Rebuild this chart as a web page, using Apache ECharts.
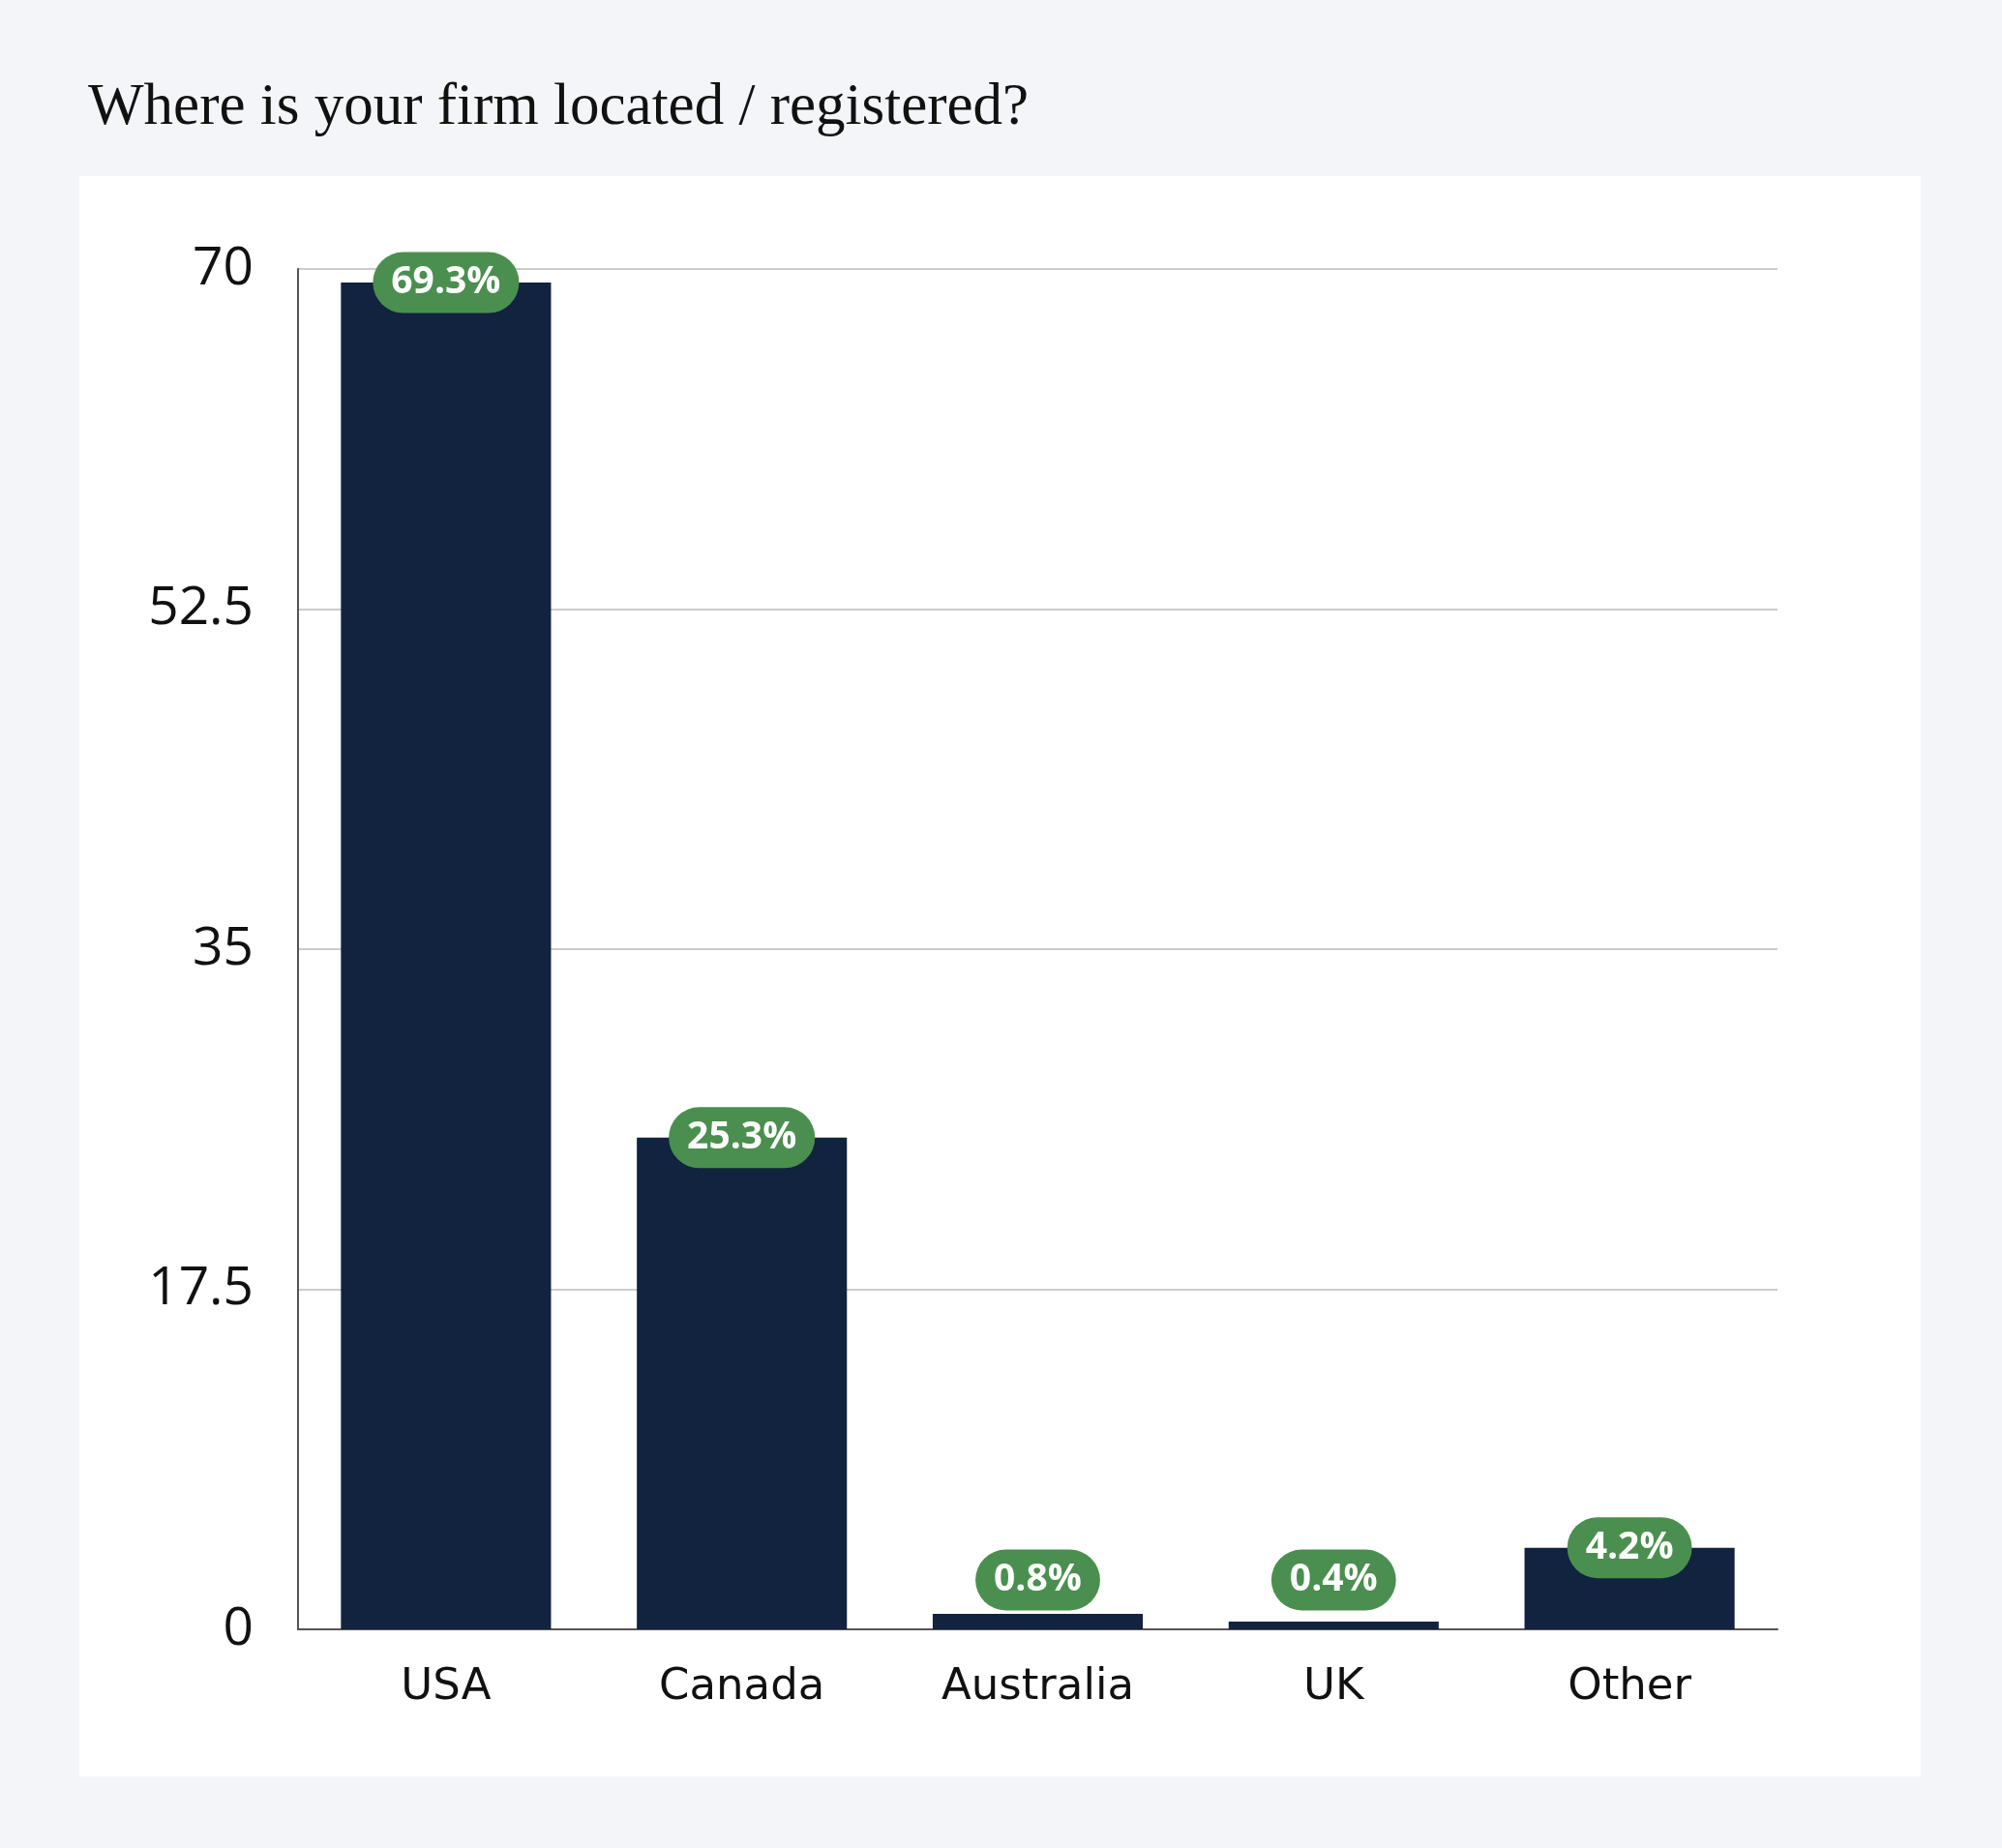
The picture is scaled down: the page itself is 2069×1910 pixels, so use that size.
<!DOCTYPE html>
<html>
<head>
<meta charset="utf-8">
<script src="https://cdn.jsdelivr.net/npm/echarts@6/dist/echarts.min.js"></script>
<style>
  html, body { margin: 0; padding: 0; background: #f4f5f9; }
  #chart { width: 2069px; height: 1910px; }
</style>
</head>
<body>
<div id="chart"></div>
<script>
const titleText = 'Where is your firm located / registered?';
const categories = ['USA', 'Canada', 'Australia', 'UK', 'Other'];
const values = [69.3, 25.3, 0.8, 0.4, 4.2];
const labelTexts = ['69.3%', '25.3%', '0.8%', '0.4%', '4.2%'];
const yMin = 0, yMax = 70, yInterval = 17.5;

const W = 2069, H = 1910;
const grid = { left: 308, right: 232, top: 278, bottom: 226 };
const pxPerUnit = (H - grid.top - grid.bottom) / (yMax - yMin);
const pillHalf = 31.5;
const minCenterPx = 51;

const seriesData = values.map((v, i) => {
  const barPx = v * pxPerUnit;
  const centerPx = Math.max(barPx, minCenterPx);
  return {
    value: v,
    label: { offset: [0, pillHalf - (centerPx - barPx)] }
  };
});

const chart = echarts.init(document.getElementById('chart'), null, { renderer: 'canvas' });
chart.setOption({
  backgroundColor: '#f4f5f9',
  animation: false,
  graphic: [{
    type: 'rect', z: -10, silent: true,
    shape: { x: 82, y: 182, width: 1903, height: 1654 },
    style: { fill: '#ffffff' }
  }],
  title: {
    text: titleText,
    left: 86, top: 76,
    textStyle: { fontFamily: 'Liberation Serif', fontSize: 61, fontWeight: 'normal', color: '#111111' }
  },
  grid: { left: grid.left, right: grid.right, top: grid.top, bottom: grid.bottom, containLabel: false },
  xAxis: {
    type: 'category',
    data: categories,
    axisLine: { show: true, lineStyle: { color: '#555555', width: 2 } },
    axisTick: { show: false },
    axisLabel: { fontFamily: 'DejaVu Sans', fontSize: 45, color: '#111111', margin: 38 }
  },
  yAxis: {
    type: 'value',
    min: yMin, max: yMax, interval: yInterval,
    axisLine: { show: true, lineStyle: { color: '#555555', width: 2 } },
    axisTick: { show: false },
    splitLine: { lineStyle: { color: '#cccccc', width: 2 } },
    axisLabel: { fontFamily: 'Open Sans', fontSize: 55, color: '#111111', margin: 46 }
  },
  series: [{
    type: 'bar',
    data: seriesData,
    barWidth: '71%',
    itemStyle: { color: '#11233e' },
    label: {
      show: true,
      position: 'top',
      distance: 0,
      formatter: p => labelTexts[p.dataIndex],
      fontFamily: 'Open Sans',
      fontWeight: 'bold',
      fontSize: 39,
      lineHeight: 35,
      color: '#ffffff',
      backgroundColor: '#4a8f4f',
      borderRadius: 32,
      padding: [14, 19]
    }
  }]
});
</script>
</body>
</html>
